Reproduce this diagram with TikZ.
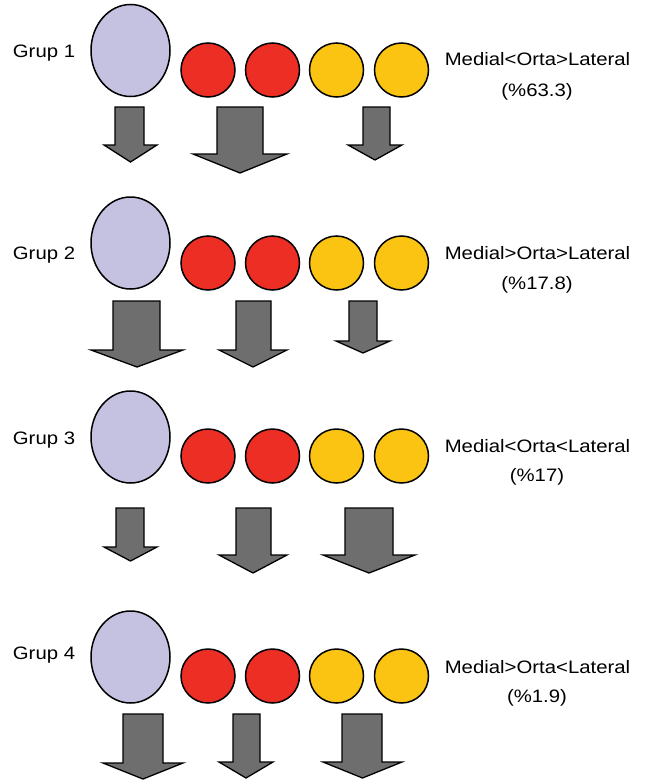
\documentclass[tikz,border=0pt]{standalone}
\usepackage{fontspec}
\setmainfont{Liberation Sans}
\usetikzlibrary{shapes.geometric}
\definecolor{lav}{RGB}{196,193,225}
\definecolor{redc}{RGB}{236,46,36}
\definecolor{yelc}{RGB}{251,195,18}
\definecolor{arrg}{RGB}{110,110,110}
\newcommand{\stretchtxt}[1]{\scalebox{1.13}[1]{#1}}
\newcommand{\blkarr}[7]{% shaftL shaftR top headY headL headR tip
  \draw[arrowbody] (#1,#3) -- (#2,#3) -- (#2,#4) -- (#6,#4) -- ({(#5+#6)/2},#7) -- (#5,#4) -- (#1,#4) -- cycle;}
\tikzset{
  lbl/.style={inner sep=0pt, font=\fontsize{18}{21}\selectfont},
  bigoval/.style={ellipse, draw=black, line width=1.5pt, fill=lav, minimum width=79pt, minimum height=92pt, inner sep=0pt},
  redball/.style={circle, draw=black, line width=1.5pt, fill=redc, minimum size=54pt, inner sep=0pt},
  yelball/.style={circle, draw=black, line width=1.5pt, fill=yelc, minimum size=54pt, inner sep=0pt},
  arrowbody/.style={draw=black, line width=1.3pt, fill=arrg, line join=miter}
}
\begin{document}
\begin{tikzpicture}[x=1pt,y=-1pt]
\useasboundingbox (0,0) rectangle (661,784);
% Group 1
\node[lbl] (g1) at (44,53) {\stretchtxt{Grup 1}};
\node[bigoval] (o1) at (130.5,50.5) {};
\node[redball] (r1a) at (208,70) {};
\node[redball] (r1b) at (272.5,70) {};
\node[yelball] (y1a) at (336.5,70) {};
\node[yelball] (y1b) at (401.5,70) {};
\node[lbl] (t1a) at (537.5,59) {\stretchtxt{Medial<Orta>Lateral}};
\node[lbl] (t1b) at (537,92) {\stretchtxt{(\%63.3)}};
\blkarr{115}{144}{107}{145}{104}{157}{162}
\blkarr{217}{263}{107}{154}{193}{287}{173}
\blkarr{363}{390}{107}{145}{348}{402}{160}
% Group 2
\node[lbl] (g2) at (44,255) {\stretchtxt{Grup 2}};
\node[bigoval] (o2) at (130.5,243) {};
\node[redball] (r2a) at (208,263) {};
\node[redball] (r2b) at (272.5,263) {};
\node[yelball] (y2a) at (336.5,263) {};
\node[yelball] (y2b) at (401.5,263) {};
\node[lbl] (t2a) at (537.5,253) {\stretchtxt{Medial>Orta>Lateral}};
\node[lbl] (t2b) at (537,285) {\stretchtxt{(\%17.8)}};
\blkarr{113}{160}{301}{350}{91}{183}{367}
\blkarr{236}{271}{301}{350}{219}{287}{367}
\blkarr{349}{377}{301}{341}{336}{390}{353}
% Group 3
\node[lbl] (g3) at (44,440) {\stretchtxt{Grup 3}};
\node[bigoval] (o3) at (130.5,437) {};
\node[redball] (r3a) at (208,456) {};
\node[redball] (r3b) at (272.5,456) {};
\node[yelball] (y3a) at (336.5,456) {};
\node[yelball] (y3b) at (401.5,456) {};
\node[lbl] (t3a) at (537.5,446) {\stretchtxt{Medial<Orta<Lateral}};
\node[lbl] (t3b) at (537,477) {\stretchtxt{(\%17)}};
\blkarr{116}{144}{508}{547}{104}{157}{561}
\blkarr{236}{271}{508}{555}{219}{287}{573}
\blkarr{345}{393}{508}{555}{323}{415}{573}
% Group 4
\node[lbl] (g4) at (44,655) {\stretchtxt{Grup 4}};
\node[bigoval] (o4) at (130.5,657) {};
\node[redball] (r4a) at (208,676) {};
\node[redball] (r4b) at (272.5,676) {};
\node[yelball] (y4a) at (336.5,676) {};
\node[yelball] (y4b) at (401.5,676) {};
\node[lbl] (t4a) at (537.5,667) {\stretchtxt{Medial>Orta<Lateral}};
\node[lbl] (t4b) at (537,698) {\stretchtxt{(\%1.9)}};
\blkarr{123}{163}{714}{763}{103}{183}{779}
\blkarr{233}{260}{714}{762}{219}{273}{778}
\blkarr{342}{382}{714}{762}{323}{402}{778}
\end{tikzpicture}
\end{document}
